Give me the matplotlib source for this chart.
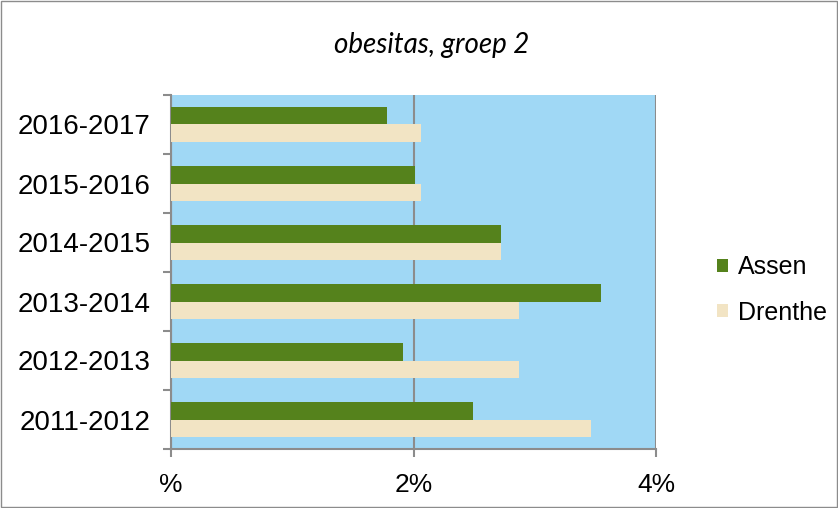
import matplotlib
matplotlib.use("Agg")
import matplotlib.pyplot as plt
from matplotlib.ticker import FuncFormatter, FixedLocator
from matplotlib.patches import Rectangle
import numpy as np

categories = ["2011-2012", "2012-2013", "2013-2014", "2014-2015", "2015-2016", "2016-2017"]
assen = [2.49, 1.91, 3.55, 2.72, 2.01, 1.78]
drenthe = [3.46, 2.87, 2.87, 2.72, 2.06, 2.06]
series_names = ["Assen", "Drenthe"]
x_ticks = [0, 2, 4]
title = "obesitas, groep 2"

green = "#55821C"
beige = "#F2E4C4"
blue = "#A0D8F5"
grey = "#8C8C8C"

plt.rcParams['font.family'] = ['Liberation Sans', 'DejaVu Sans']

fig = plt.figure(figsize=(8.38, 5.08), dpi=100)
fig.patches.append(Rectangle((0.0015, 0.002), 0.997, 0.996, transform=fig.transFigure,
                             fill=False, edgecolor=grey, linewidth=1.0))
ax = fig.add_axes([171/838, 1-449/508, (656-171)/838, (449-95)/508])
ax.set_facecolor(blue)

y = np.arange(len(categories))
h = 0.29
ax.barh(y + h/2, assen, height=h, color=green, label=series_names[0], zorder=3)
ax.barh(y - h/2, drenthe, height=h, color=beige, label=series_names[1], zorder=3)

ax.set_xlim(0, 4)
ax.set_ylim(-0.5, len(categories) - 0.5)

ax.xaxis.set_major_locator(FixedLocator(x_ticks))
ax.xaxis.set_major_formatter(FuncFormatter(lambda v, p: "%" if v == 0 else f"{int(v)}%"))
ax.grid(axis='x', color=grey, linewidth=1.5, zorder=1)

ax.set_yticks(np.arange(-0.5, len(categories), 1.0))
ax.set_yticklabels([])
ax.set_yticks(y, minor=True)
ax.set_yticklabels(categories, minor=True)
ax.tick_params(axis='y', which='minor', length=0, pad=15, labelsize=20)
ax.tick_params(axis='y', which='major', length=6, width=1.5, color=grey)
ax.tick_params(axis='x', which='major', length=6, width=1.5, color=grey, labelsize=19, pad=11)

for s in ['top', 'right']:
    ax.spines[s].set_visible(False)
for s in ['left', 'bottom']:
    ax.spines[s].set_color(grey)
    ax.spines[s].set_linewidth(1.5)

fig.text(432/838, 1-45/508, title, ha='center', va='center', fontsize=20,
         style='italic', family=['Lato', 'DejaVu Sans'])

leg = ax.legend(loc='center left', bbox_to_anchor=((717-171)/485, 0.449), frameon=False,
                fontsize=18, handlelength=0.45, handleheight=0.45, handletextpad=0.4,
                labelspacing=0.85, borderaxespad=0, borderpad=0)

fig.savefig("out.png", dpi=100)
